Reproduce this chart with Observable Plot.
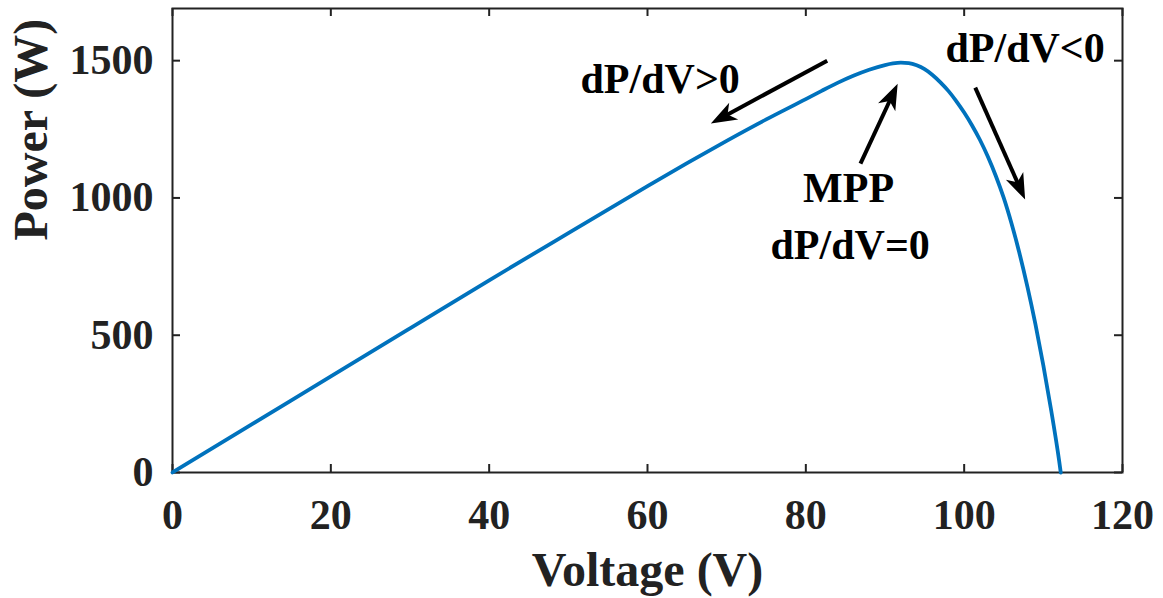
<!DOCTYPE html>
<html>
<head>
<meta charset="utf-8">
<script src="https://cdn.jsdelivr.net/npm/d3@7"></script>
<script src="https://cdn.jsdelivr.net/npm/@observablehq/plot@0.6"></script>
<style>
  html, body { margin: 0; padding: 0; background: #fff; }
  #chart { width: 1163px; height: 598px; }
</style>
</head>
<body>
<div id="chart"></div>
<script>
// P–V curve of the PV array
const voltage = [0, 10, 20, 30, 40, 50, 60, 65, 70, 75, 80, 82, 84, 86, 88, 90, 91, 92, 93, 94, 95, 96, 97, 98, 99, 100, 101, 102, 103, 104, 105, 106, 107, 108, 109, 110, 111, 112, 112.2];
const power   = [0, 175, 350, 525, 700, 872, 1043, 1127, 1208, 1286, 1360, 1390, 1419, 1445, 1467, 1484, 1490, 1493, 1491, 1483, 1469, 1448, 1421, 1390, 1353, 1311, 1264, 1211, 1150, 1080, 1000, 905, 797, 675, 540, 390, 225, 42, 0];

const xTicks = [0, 20, 40, 60, 80, 100, 120];
const yTicks = [0, 500, 1000, 1500];
const xLabel = "Voltage (V)";
const yLabel = "Power (W)";

// annotations (data coordinates)
const annoLabels = ["dP/dV>0", "MPP", "dP/dV=0", "dP/dV<0"];
const annoV = [61.6, 85.4, 85.6, 107.7];
const annoP = [1431, 1034, 826, 1544];

const arrowV1 = [82.7, 86.9, 101.4];
const arrowP1 = [1500, 1125, 1402];
const arrowV2 = [68.0, 91.6, 107.7];
const arrowP2 = [1271, 1416, 994];

const W = 1163, H = 598;
const mL = 172, mR = 41, mT = 8, mB = 126;
const innerH = H - mT - mB, innerW = W - mL - mR;
const xMax = 120, yMax = 1690;
const tickLen = 8;
const ink = "#222";

const curve = voltage.map((v, i) => ({v, p: power[i]}));
const annos = annoLabels.map((t, i) => ({t, v: annoV[i], p: annoP[i]}));
const kx = innerW / xMax, ky = innerH / yMax;
const arrows = arrowV1.map((v, i) => {
  const dx = (arrowV2[i] - v) * kx;
  const dyUp = (arrowP2[i] - arrowP1[i]) * ky;
  return {v1: v, p1: arrowP1[i], v2: arrowV2[i], p2: arrowP2[i], angle: Math.atan2(dx, dyUp) * 180 / Math.PI};
});

// filled, notched arrow head pointing up with its tip at the anchor
const headSymbol = {
  draw(context, size) {
    const s = Math.sqrt(size / Math.PI);
    context.moveTo(0, 0);
    context.lineTo(0.95 * s, 2.6 * s);
    context.lineTo(0, 1.9 * s);
    context.lineTo(-0.95 * s, 2.6 * s);
    context.closePath();
  }
};

const chart = Plot.plot({
  width: W,
  height: H,
  marginLeft: mL,
  marginRight: mR,
  marginTop: mT,
  marginBottom: mB,
  style: {fontFamily: "'Liberation Serif', 'Times New Roman', serif", background: "#fff", color: ink},
  x: {domain: [0, xMax]},
  y: {domain: [0, yMax]},
  marks: [
    // inward ticks on all four sides
    Plot.tickX(xTicks, {x: d => d, insetTop: innerH - tickLen, stroke: ink, strokeWidth: 2}),
    Plot.tickX(xTicks, {x: d => d, insetBottom: innerH - tickLen, stroke: ink, strokeWidth: 2}),
    Plot.tickY(yTicks, {y: d => d, insetRight: innerW - tickLen, stroke: ink, strokeWidth: 2}),
    Plot.tickY(yTicks, {y: d => d, insetLeft: innerW - tickLen, stroke: ink, strokeWidth: 2}),
    Plot.axisX({ticks: xTicks, tickSize: 0, tickPadding: 27, fontSize: 42, fontWeight: "bold", label: null, tickFormat: d => String(d)}),
    Plot.axisY({ticks: yTicks, tickSize: 0, tickPadding: 19, fontSize: 42, fontWeight: "bold", label: null, tickFormat: d => String(d)}),
    Plot.frame({stroke: ink, strokeWidth: 2}),
    Plot.line(curve, {x: "v", y: "p", stroke: "#0072BD", strokeWidth: 3.8, curve: "monotone-x"}),
    Plot.arrow(arrows, {x1: "v1", y1: "p1", x2: "v2", y2: "p2", stroke: "#000", strokeWidth: 4, headLength: 0, strokeLinecap: "butt", insetEnd: 16}),
    Plot.dot(arrows, {x: "v2", y: "p2", symbol: headSymbol, r: 10, rotate: "angle", fill: "#000", stroke: "none"}),
    Plot.text(annos, {x: "v", y: "p", text: "t", fontSize: 42, fontWeight: "bold", fill: "#000"}),
    Plot.text([xLabel], {frameAnchor: "bottom", dy: 113, text: d => d, fontSize: 48, fontWeight: "bold", fill: ink}),
    Plot.text([yLabel], {frameAnchor: "left", dx: -141, rotate: -90, text: d => d, fontSize: 48, fontWeight: "bold", fill: ink})
  ]
});
document.getElementById("chart").appendChild(chart);
</script>
</body>
</html>
